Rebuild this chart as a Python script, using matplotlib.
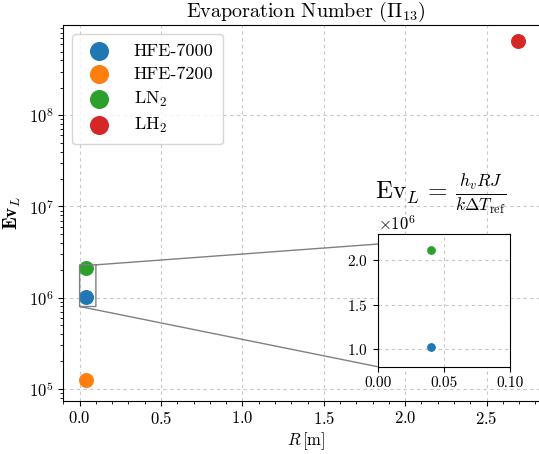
import matplotlib
matplotlib.use("Agg")
import matplotlib.pyplot as plt
from matplotlib.ticker import AutoMinorLocator

plt.rcParams["font.family"] = "serif"
plt.rcParams["font.serif"] = ["cmr10"]
plt.rcParams["mathtext.fontset"] = "cm"
plt.rcParams["axes.formatter.use_mathtext"] = True

# data
fluids = ["HFE-7000", "HFE-7200", r"LN$_2$", r"LH$_2$"]
radius = [0.04, 0.04, 0.04, 2.69]
ev_num = [1.02e6, 1.25e5, 2.11e6, 6.6e8]
colors = ["#1f77b4", "#ff7f0e", "#2ca02c", "#d62728"]

grid_kw = dict(ls=(0, (3, 3)), color="#c8c8c8", lw=0.8)

fig = plt.figure(figsize=(5.39, 4.54), dpi=100)
# right edge of the axes runs past the canvas, as in the cropped original
ax = fig.add_axes([0.1175, 0.1174, 0.90, 0.8276])

for name, r, ev, c in zip(fluids, radius, ev_num, colors):
    ax.scatter(r, ev, s=95, color=c, label=name, zorder=3)

ax.set_yscale("log")
ax.set_xlim(-0.1, 2.88)
ax.set_ylim(10**4.87, 10**8.99)
ax.xaxis.set_minor_locator(AutoMinorLocator(5))
ax.grid(True, which="major", **grid_kw)
ax.set_title(r"Evaporation Number ($\Pi_{13}$)", fontsize=14.5)
ax.set_xlabel(r"$R\,[\mathrm{m}]$", fontsize=12, labelpad=2)
ax.set_ylabel(r"$\mathbf{Ev}_L$", fontsize=14)
ax.tick_params(labelsize=12)
ax.legend(loc="upper left", fontsize=13, markerscale=1.3, handletextpad=0.9,
          borderpad=0.5, labelspacing=0.42)

# inset
axins = fig.add_axes([0.7007, 0.1923, 0.2455, 0.2916])
for r, ev, c in zip(radius, ev_num, colors):
    axins.scatter(r, ev, s=28, color=c, zorder=3)
axins.set_xlim(0.0, 0.1)
axins.set_ylim(0.8e6, 2.29e6)
axins.set_xticks([0.0, 0.05, 0.1])
axins.set_xticklabels(["0.00", "0.05", "0.10"])
axins.grid(True, **grid_kw)
axins.tick_params(labelsize=11)
axins.yaxis.get_offset_text().set_fontsize(12)
ax.indicate_inset_zoom(axins, edgecolor="gray", alpha=1.0, lw=1.0)

fig.text(0.818, 0.572, r"$\mathrm{Ev}_L\,=\,\frac{h_v R J}{k \Delta T_{\mathrm{ref}}}$",
         ha="center", va="center", fontsize=18)

fig.savefig("out.png", dpi=100)
